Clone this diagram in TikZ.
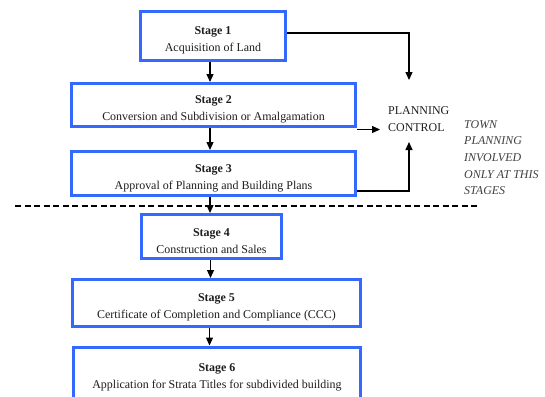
\documentclass[tikz,border=0pt]{standalone}
\usepackage{fontspec}
\setmainfont{Liberation Serif}
\usetikzlibrary{arrows.meta}
\definecolor{stageblue}{RGB}{52,104,255}
\definecolor{txt}{RGB}{30,30,30}
\tikzset{
  stagebox/.style={draw=stageblue, line width=3bp, fill=white, align=center, inner sep=0pt,
    font=\fontsize{12}{17}\selectfont, text=txt},
  flow/.style={line width=1.2bp, draw=black, -{Triangle[length=8bp,width=7bp]}},
}
\newcommand{\stagetext}[2]{\rule{0pt}{17bp}\textbf{#1}\\#2}
\begin{document}
\begin{tikzpicture}[x=1bp,y=-1bp]
\useasboundingbox (0,0) rectangle (545,396);
\node[stagebox, minimum width=145bp, minimum height=49bp] (s1) at (213,36) {\stagetext{Stage 1}{Acquisition of Land}};
\node[stagebox, minimum width=284bp, minimum height=43bp] (s2) at (213.5,105) {\stagetext{Stage 2}{Conversion and Subdivision or Amalgamation}};
\node[stagebox, minimum width=284bp, minimum height=44bp] (s3) at (213.5,173.5) {\stagetext{Stage 3}{Approval of Planning and Building Plans}};
\node[stagebox, minimum width=140bp, minimum height=44bp] (s4) at (211.5,236.5) {\stagetext{Stage 4}{Construction and Sales}};
\node[stagebox, minimum width=288bp, minimum height=47bp] (s5) at (216.5,303) {\stagetext{Stage 5}{Certificate of Completion and Compliance (CCC)}};
\node[stagebox, minimum width=287bp, minimum height=52bp] (s6) at (217,373) {\stagetext{Stage 6}{Application for Strata Titles for subdivided building}};

\node[align=left, inner sep=0pt, font=\fontsize{12}{17}\selectfont, text=txt, anchor=west] (pc) at (388,119.5) {PLANNING\\CONTROL};
\node[align=left, inner sep=0pt, font=\fontsize{12}{16.7}\selectfont\itshape, text=black!75, anchor=west] (town) at (464,157.5) {TOWN\\PLANNING\\INVOLVED\\ONLY AT THIS\\STAGES};

\coordinate (pcT) at (409,80);
\coordinate (pcL) at (380,129.5);
\coordinate (pcB) at (409,142);
\coordinate (dl) at (15,206);
\coordinate (dr) at (477,206);

\draw[line width=1.5bp, dash pattern=on 6bp off 3.5bp] (dl) -- (dr);

\draw[flow] ([xshift=-3bp]s1.south) -- ([xshift=-3bp]s1.south |- s2.north);
\draw[flow] ([xshift=-3.5bp]s2.south) -- ([xshift=-3.5bp]s2.south |- s3.north);
\draw[flow] ([xshift=-3.5bp]s3.south) -- ([xshift=-3.5bp]s3.south |- s4.north);
\draw[flow] ([xshift=-1bp]s4.south) -- ([xshift=-1bp]s4.south |- s5.north);
\draw[flow] ([xshift=-7bp]s5.south) -- ([xshift=-7bp]s5.south |- s6.north);

\draw[flow] ([yshift=3bp]s1.east) -| (pcT);
\draw[flow] (s2.south east |- pcL) -- (pcL);
\draw[flow] ([yshift=-17.5bp]s3.east) -| (pcB);
\end{tikzpicture}
\end{document}
